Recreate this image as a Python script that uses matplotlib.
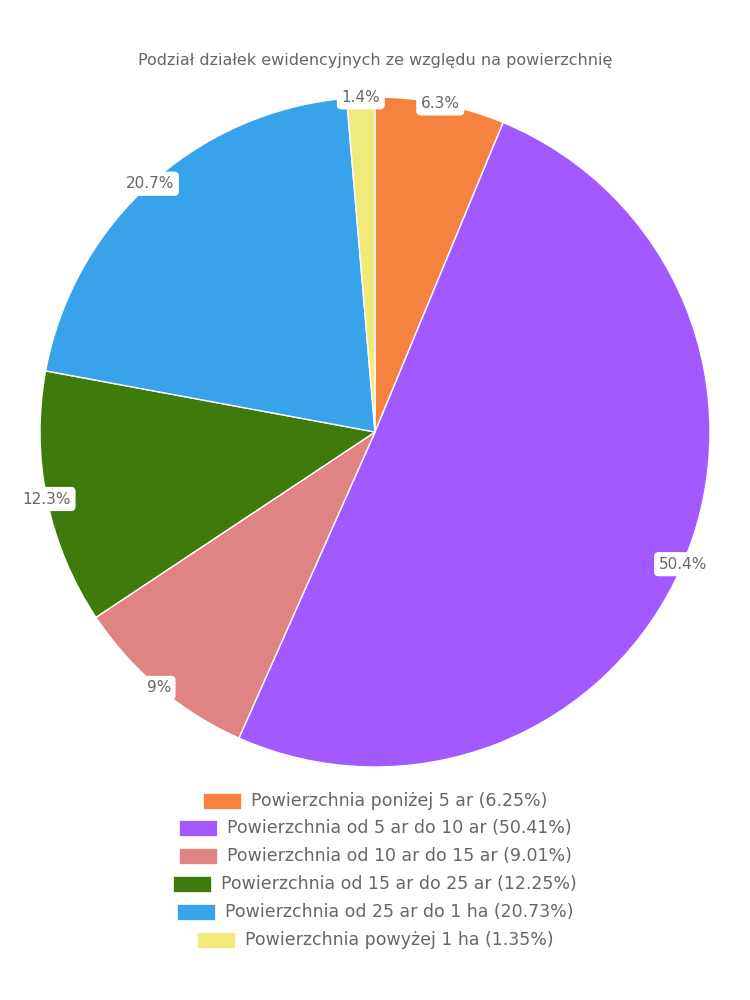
import matplotlib
matplotlib.use("Agg")
import matplotlib.pyplot as plt
from matplotlib.patches import Rectangle

# chart data
categories = [
    "Powierzchnia poniżej 5 ar",
    "Powierzchnia od 5 ar do 10 ar",
    "Powierzchnia od 10 ar do 15 ar",
    "Powierzchnia od 15 ar do 25 ar",
    "Powierzchnia od 25 ar do 1 ha",
    "Powierzchnia powyżej 1 ha",
]
shares = [6.25, 50.41, 9.01, 12.25, 20.73, 1.35]
slice_labels = ["6.3%", "50.4%", "9%", "12.3%", "20.7%", "1.4%"]
colors = ["#F5833F", "#A259FF", "#E08383", "#3E7B0C", "#38A2EB", "#F0EA7A"]
title = "Podział działek ewidencyjnych ze względu na powierzchnię"

plt.rcParams['font.family'] = ['DejaVu Sans']
text_color = "#666666"

fig = plt.figure(figsize=(7.5, 10), dpi=100)
ax = fig.add_axes([40 / 750, 233 / 1000, 670 / 750, 670 / 1000])

wedges, texts = ax.pie(
    shares, colors=colors, labels=slice_labels, startangle=90, counterclock=False,
    radius=1.0, labeldistance=1.0,
    wedgeprops=dict(edgecolor="white", linewidth=1),
    textprops=dict(color=text_color, fontsize=11,
                   bbox=dict(boxstyle="round,pad=0.3,rounding_size=0.3",
                             fc="white", ec="none")),
)
for t in texts:
    t.set_ha("center")
    t.set_va("center")
ax.set_xlim(-1, 1)
ax.set_ylim(-1, 1)
ax.set_aspect("equal")
ax.axis("off")

renderer = fig.canvas.get_renderer()

fig.text(0.5, 1 - 60 / 1000, title, ha="center", va="center",
         fontsize=11.5, color=text_color)

# legend: each row centered on its own
row_y = [801, 828, 856, 884, 912, 940]
box_w, box_h, gap = 38, 16, 10
for name, share, col, y in zip(categories, shares, colors, row_y):
    label = f"{name} ({share}%)"
    t = fig.text(0, 1 - y / 1000, label, ha="left", va="center",
                 fontsize=12.5, color=text_color)
    w = t.get_window_extent(renderer).width
    total = box_w + gap + w
    x0 = 375 - total / 2
    t.set_x((x0 + box_w + gap) / 750)
    fig.add_artist(Rectangle(((x0) / 750, 1 - (y + box_h / 2) / 1000),
                             box_w / 750, box_h / 1000,
                             transform=fig.transFigure, fc=col, ec="white", lw=0.5))

fig.savefig("out.png", dpi=100, facecolor="white")
